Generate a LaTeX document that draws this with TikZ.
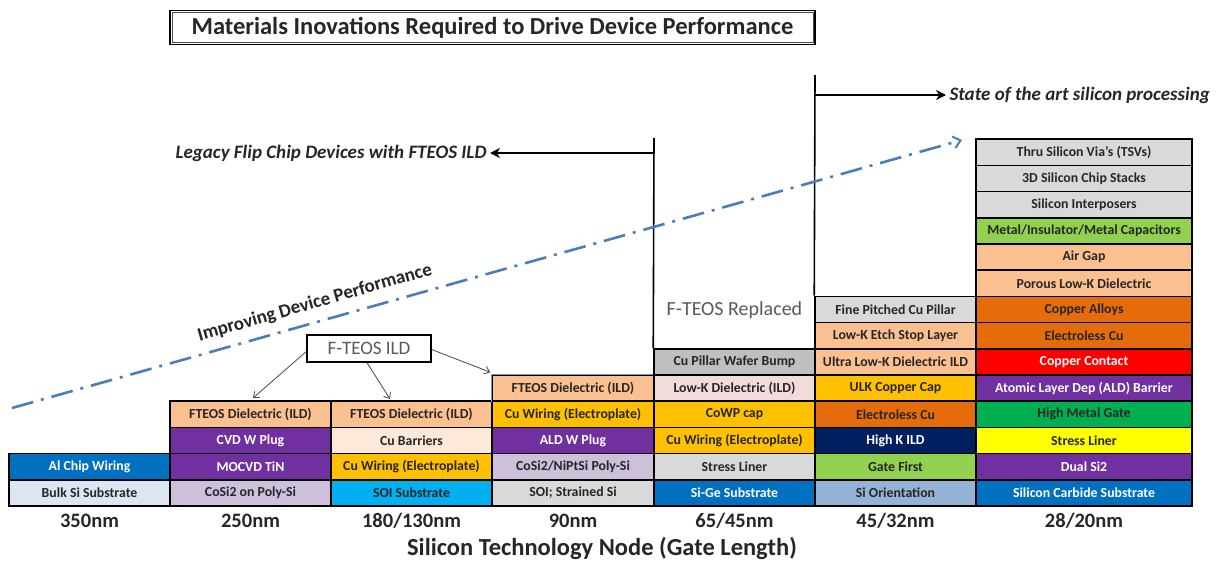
\documentclass[tikz,border=0pt]{standalone}
\usepackage{fontspec}
\setmainfont{Carlito}
\usetikzlibrary{arrows.meta}
\definecolor{dk}{HTML}{262626}
\definecolor{cBlue}{HTML}{0070C0}
\definecolor{cBulk}{HTML}{DCE6F2}
\definecolor{cPeach}{HTML}{FAC090}
\definecolor{cPurp}{HTML}{7030A0}
\definecolor{cLav}{HTML}{CCC0DA}
\definecolor{cPink}{HTML}{FDE9D9}
\definecolor{cPink2}{HTML}{F2DCDB}
\definecolor{cGold}{HTML}{FFC000}
\definecolor{cCyan}{HTML}{00B0F0}
\definecolor{cGray}{HTML}{D9D9D9}
\definecolor{cGray2}{HTML}{BFBFBF}
\definecolor{cOrange}{HTML}{E46C0A}
\definecolor{cNavy}{HTML}{002060}
\definecolor{cLGreen}{HTML}{92D050}
\definecolor{cSky}{HTML}{95B3D7}
\definecolor{cRed}{HTML}{FF0000}
\definecolor{cGreen}{HTML}{00B050}
\definecolor{cYellow}{HTML}{FFFF00}
\definecolor{cTrend}{HTML}{4A7EBB}
\definecolor{gtxt}{HTML}{595959}
\begin{document}
\begin{tikzpicture}[x=1pt,y=-1pt,
  cell/.style={draw=black, line width=1.5pt, minimum height=26.2pt, inner sep=0pt,
    font=\bfseries\fontsize{13.8}{15}\selectfont, text=dk},
  wt/.style={text=white},
  colA/.style={cell, minimum width=161pt},
  colB/.style={cell, minimum width=162pt},
  colC/.style={cell, minimum width=216pt},
  nmlab/.style={font=\bfseries\fontsize{20.5}{22}\selectfont, text=dk},
  note/.style={font=\bfseries\itshape\fontsize{19}{21}\selectfont, text=dk},
  bigarrow/.style={line width=1.8pt, -{Stealth[length=10pt,width=10pt]}},
  thinarrow/.style={draw=gtxt!80!black, line width=0.8pt, -{Straight Barb[length=5pt,width=8pt]}}
]
\useasboundingbox (0,0) rectangle (1221,563);

% Title
\node[draw, line width=1.4pt, minimum width=645pt, minimum height=34pt, inner sep=0pt,
  font=\bfseries\fontsize{24.5}{26}\selectfont, text=dk] (title) at (492.5,27.5)
  {Materials Inovations Required to Drive Device Performance};
\draw[line width=0.6pt, black!70] ([shift={(2.5,2.5)}]title.north west) rectangle ([shift={(-2.5,-2.5)}]title.south east);

% Column 1 (350nm)
\node[colA, fill=cBulk] (c1r1) at (89.5,492.9) {Bulk Si Substrate};
\node[colA, fill=cBlue, wt] (c1r2) at (89.5,466.7) {Al Chip Wiring};

% Column 2 (250nm)
\node[colA, fill=cLav] (c2r1) at (250.5,492.9) {CoSi2 on Poly-Si};
\node[colA, fill=cPurp, wt] (c2r2) at (250.5,466.7) {MOCVD TiN};
\node[colA, fill=cPurp, wt] (c2r3) at (250.5,440.5) {CVD W Plug};
\node[colA, fill=cPeach] (c2r4) at (250.5,414.3) {FTEOS Dielectric (ILD)};

% Column 3 (180/130nm)
\node[colA, fill=cCyan] (c3r1) at (411.5,492.9) {SOI Substrate};
\node[colA, fill=cGold] (c3r2) at (411.5,466.7) {Cu Wiring (Electroplate)};
\node[colA, fill=cPink] (c3r3) at (411.5,440.5) {Cu Barriers};
\node[colA, fill=cPeach] (c3r4) at (411.5,414.3) {FTEOS Dielectric (ILD)};

% Column 4 (90nm)
\node[colB, fill=cGray] (c4r1) at (573,492.9) {SOI; Strained Si};
\node[colB, fill=cLav] (c4r2) at (573,466.7) {CoSi2/NiPtSi Poly-Si};
\node[colB, fill=cPurp, wt] (c4r3) at (573,440.5) {ALD W Plug};
\node[colB, fill=cGold] (c4r4) at (573,414.3) {Cu Wiring (Electroplate)};
\node[colB, fill=cPeach] (c4r5) at (573,388.1) {FTEOS Dielectric (ILD)};
\draw[cTrend!80, line width=1.5pt] (c4r5.south west) -- (c4r5.north west) -- (c4r5.north east);

% Column 5 (65/45nm)
\node[colA, fill=cBlue, wt] (c5r1) at (734.5,492.9) {Si-Ge Substrate};
\node[colA, fill=cGray] (c5r2) at (734.5,466.7) {Stress Liner};
\node[colA, fill=cGold] (c5r3) at (734.5,440.5) {Cu Wiring (Electroplate)};
\node[colA, fill=cGold] (c5r4) at (734.5,414.3) {CoWP cap};
\node[colA, fill=cPink2] (c5r5) at (734.5,388.1) {Low-K Dielectric (ILD)};
\node[colA, fill=cGray2] (c5r6) at (734.5,361.9) {Cu Pillar Wafer Bump};

% Column 6 (45/32nm)
\node[colA, fill=cSky] (c6r1) at (895.5,492.9) {Si Orientation};
\node[colA, fill=cLGreen] (c6r2) at (895.5,466.7) {Gate First};
\node[colA, fill=cNavy, wt] (c6r3) at (895.5,440.5) {High K ILD};
\node[colA, fill=cOrange] (c6r4) at (895.5,414.3) {Electroless Cu};
\node[colA, fill=cGold] (c6r5) at (895.5,388.1) {ULK Copper Cap};
\node[colA, fill=cPeach] (c6r6) at (895.5,361.9) {Ultra Low-K Dielectric ILD};
\node[colA, fill=cPeach] (c6r7) at (895.5,335.7) {Low-K Etch Stop Layer};
\node[colA, fill=cGray] (c6r8) at (895.5,309.5) {Fine Pitched Cu Pillar};

% Column 7 (28/20nm)
\node[colC, fill=cBlue, wt] (c7r1) at (1084,492.9) {Silicon Carbide Substrate};
\node[colC, fill=cPurp, wt] (c7r2) at (1084,466.7) {Dual Si2};
\node[colC, fill=cYellow] (c7r3) at (1084,440.5) {Stress Liner};
\node[colC, fill=cGreen] (c7r4) at (1084,414.3) {High Metal Gate};
\node[colC, fill=cPurp, wt] (c7r5) at (1084,388.1) {Atomic Layer Dep (ALD) Barrier};
\node[colC, fill=cRed, wt] (c7r6) at (1084,361.9) {Copper Contact};
\node[colC, fill=cOrange] (c7r7) at (1084,335.7) {Electroless Cu};
\node[colC, fill=cOrange] (c7r8) at (1084,309.5) {Copper Alloys};
\node[colC, fill=cPeach] (c7r9) at (1084,283.3) {Porous Low-K Dielectric};
\node[colC, fill=cPeach] (c7r10) at (1084,257.1) {Air Gap};
\node[colC, fill=cLGreen] (c7r11) at (1084,230.9) {Metal/Insulator/Metal Capacitors};
\node[colC, fill=cGray] (c7r12) at (1084,204.7) {Silicon Interposers};
\node[colC, fill=cGray] (c7r13) at (1084,178.5) {3D Silicon Chip Stacks};
\node[colC, fill=cGray] (c7r14) at (1084,152.3) {Thru Silicon Via's (TSVs)};

% Node labels
\node[nmlab] (n1) at (89.5,521) {350nm};
\node[nmlab] (n2) at (250.5,521) {250nm};
\node[nmlab] (n3) at (411.5,521) {180/130nm};
\node[nmlab] (n4) at (573,521) {90nm};
\node[nmlab] (n5) at (734.5,521) {65/45nm};
\node[nmlab] (n6) at (895.5,521) {45/32nm};
\node[nmlab] (n7) at (1084,521) {28/20nm};
\node[font=\bfseries\fontsize{24.5}{26}\selectfont, text=dk] (axis) at (602,548) {Silicon Technology Node (Gate Length)};

% F-TEOS Replaced region
\coordinate (lt) at (654,138);
\coordinate (lm) at (654,153);
\draw[line width=1.6pt] (lt) -- (c5r6.north west);
\node[font=\fontsize{20}{22}\selectfont, text=gtxt] (repl) at (734.5,310) {F-TEOS Replaced};

% state-of-the-art bracket
\coordinate (st) at (815,75);
\coordinate (sm) at (815,95);
\draw[line width=1.6pt] (st) -- (c6r8.north west);
\node[note, anchor=west] (state) at (946,95) {State of the art silicon processing};
\draw[bigarrow] (sm) -- (state.west);

\node[note, anchor=east] (legacy) at (490,153) {Legacy Flip Chip Devices with FTEOS ILD};
\draw[bigarrow] (lm) -- (legacy.east);

% Trend line
\coordinate (tr0) at (12,408);
\coordinate (tr1) at (962,140);
\draw[cTrend, line width=2.6pt, dash pattern=on 22pt off 8pt on 3pt off 8pt,
  -{Straight Barb[length=7pt,width=12pt,line width=2pt]}] (tr0) -- (tr1);
\node[font=\bfseries\fontsize{19}{21}\selectfont, text=dk, rotate=16] (impr) at (315,303) {Improving Device Performance};

% F-TEOS ILD callout
\node[draw, line width=1.3pt, minimum width=124pt, minimum height=27pt, inner sep=0pt,
  font=\fontsize{19}{21}\selectfont, text=gtxt] (fteos) at (369,348.5) {F-TEOS ILD};
\draw[thinarrow] (fteos.west) ++(0,3) -- (253,398);
\draw[thinarrow] ([xshift=-2pt]fteos.south) -- (390,399);
\draw[thinarrow] (fteos.east) ++(0,1) -- ([xshift=-1pt,yshift=2pt]c4r5.north west);
\end{tikzpicture}
\end{document}
